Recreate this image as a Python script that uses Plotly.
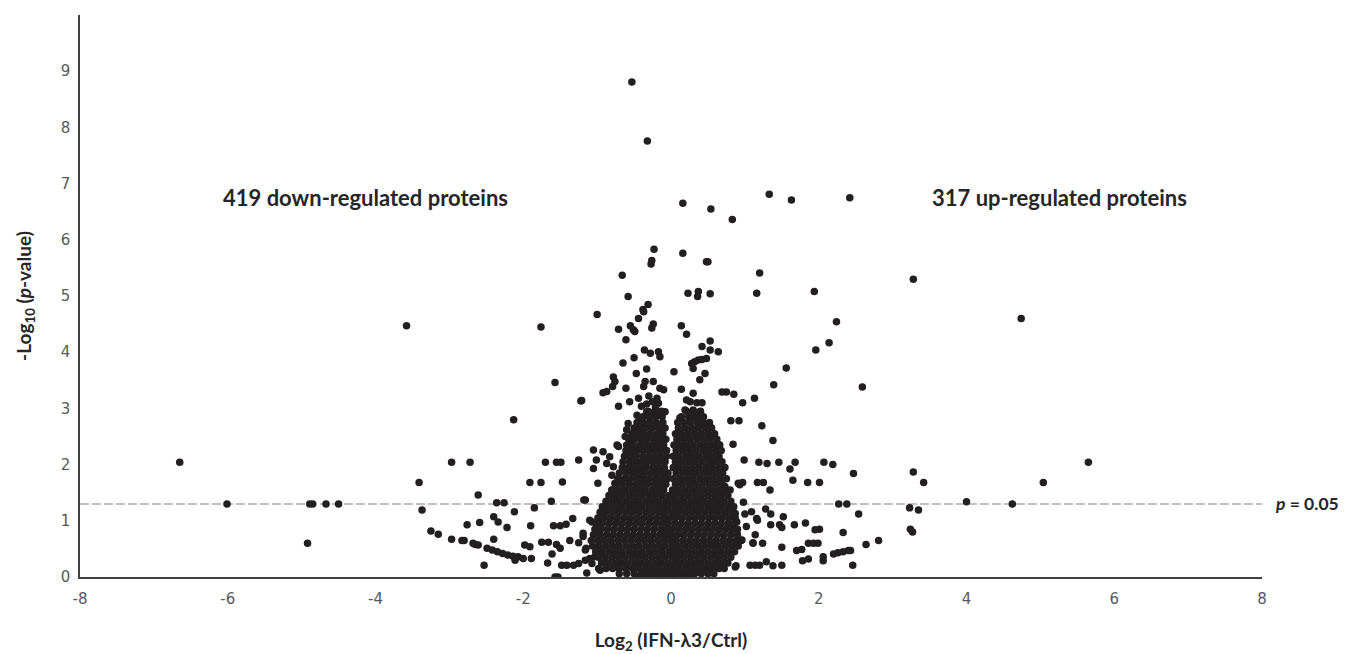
import plotly.graph_objects as go

# ---------------- data ----------------
far_left = [(-6.65, 2.04), (-6.01, 1.30), (-4.92, 0.60), (-4.89, 1.30), (-4.85, 1.30),
            (-4.67, 1.30), (-4.50, 1.30), (-3.58, 4.47), (-3.41, 1.68), (-3.37, 1.19),
            (-3.25, 0.82), (-3.15, 0.76)]

left_mid = [(-2.97, 2.04), (-2.72, 2.04), (-2.97, 0.67), (-2.83, 0.65), (-2.80, 0.65),
            (-2.68, 0.60), (-2.61, 0.57), (-2.76, 0.93), (-2.61, 1.46), (-2.59, 0.97),
            (-1.76, 4.45), (-1.00, 4.67), (-1.57, 3.46), (-1.22, 3.13), (-2.13, 2.80),
            (-1.70, 2.04), (-1.55, 2.04), (-1.49, 2.04), (-1.25, 2.08), (-1.91, 1.68),
            (-1.76, 1.68), (-1.47, 1.69), (-0.99, 1.67), (-1.05, 2.26), (-0.92, 2.23),
            (-2.36, 1.32), (-2.26, 1.32), (-1.62, 1.35), (-1.18, 1.37), (-1.85, 1.23),
            (-2.12, 1.16), (-2.40, 1.07), (-2.34, 0.98), (-2.22, 0.88), (-1.90, 0.91),
            (-1.59, 0.91), (-1.50, 0.91), (-1.42, 0.94), (-1.33, 1.04), (-2.65, 0.58),
            (-2.49, 0.51), (-2.42, 0.48), (-2.35, 0.45), (-2.28, 0.42), (-2.21, 0.39),
            (-2.14, 0.37), (-2.07, 0.36), (-2.40, 0.67), (-2.53, 0.21), (-1.98, 0.57),
            (-1.91, 0.54), (-2.11, 0.30), (-2.00, 0.33), (-1.89, 0.33), (-1.75, 0.62),
            (-1.66, 0.62), (-1.55, 0.58), (-1.50, 0.51), (-1.61, 0.41), (-1.67, 0.25),
            (-1.57, 0.00), (-1.53, 0.00), (-1.48, 0.21), (-1.41, 0.21), (-1.32, 0.21),
            (-1.25, 0.24), (-1.37, 0.65), (-1.25, 0.61), (-1.19, 0.72), (-1.15, 0.51),
            (-1.16, 0.30), (-1.07, 0.24), (-1.03, 0.36), (-0.96, 0.12), (-1.07, 0.98),
            (-1.01, 0.84), (-0.96, 0.66), (-1.10, 1.01), (-1.19, 0.78), (-1.16, 0.48),
            (-1.10, 0.33), (-0.98, 0.15), (-1.14, 0.07), (-1.05, 1.93), (-1.01, 2.08),
            (-0.83, 2.14), (-0.87, 2.02), (-0.78, 1.96), (-0.80, 1.81), (-0.76, 1.67),
            (-0.80, 1.55), (-0.69, 1.52), (-1.16, 1.37), (-1.21, 3.14)]

center_top = [(-0.53, 8.81), (-0.32, 7.76), (0.16, 6.65), (0.54, 6.55), (0.83, 6.36),
              (-0.23, 5.83), (0.16, 5.76), (-0.26, 5.63), (-0.27, 5.57), (0.48, 5.61),
              (0.50, 5.61), (-0.66, 5.37), (-0.58, 4.99), (0.23, 5.05), (0.37, 5.08),
              (0.36, 4.99), (0.53, 5.04), (-0.31, 4.85), (-0.38, 4.76), (-0.71, 4.41),
              (-0.61, 4.22), (-0.55, 4.47), (-0.51, 4.40), (-0.49, 4.37), (-0.44, 4.60),
              (-0.37, 4.72), (-0.24, 4.50), (-0.26, 4.43), (-0.36, 4.04), (-0.28, 3.98),
              (-0.17, 4.01), (-0.15, 3.92), (-0.65, 3.81), (-0.50, 3.90), (-0.33, 3.70),
              (-0.47, 3.62), (0.04, 3.65), (-0.78, 3.56), (-0.76, 3.48), (-0.79, 3.39),
              (-0.87, 3.30), (-0.92, 3.28), (-0.35, 3.48), (-0.37, 3.39), (-0.24, 3.48),
              (-0.15, 3.36), (-0.10, 3.33), (-0.61, 3.36), (-0.56, 3.12), (-0.71, 3.04),
              (-0.44, 3.18), (-0.40, 3.04), (-0.19, 3.18), (-0.17, 3.09),
              (-0.30, 3.22), (-0.25, 3.12), (-0.33, 3.08), (-0.21, 3.02),
              (0.14, 4.47), (0.21, 4.32), (0.53, 4.20), (0.42, 4.10), (0.53, 4.04),
              (0.64, 4.01), (0.28, 3.80), (0.32, 3.83), (0.37, 3.86), (0.42, 3.87),
              (0.48, 3.89), (0.30, 3.71), (0.46, 3.62), (0.39, 3.51), (0.14, 3.34),
              (0.30, 3.27), (0.21, 3.15), (0.26, 3.12), (0.35, 3.10), (0.42, 3.10),
              (0.19, 2.97), (0.30, 2.97), (0.39, 2.94), (0.12, 2.83), (0.26, 2.82),
              (0.37, 2.85), (0.42, 2.73), (0.48, 2.69), (0.53, 2.67),
              (-0.58, 2.73), (-0.60, 2.62), (-0.55, 2.47), (-0.62, 2.50), (-0.60, 2.35),
              (-0.71, 2.32), (-0.73, 2.35), (-0.46, 2.88), (-0.42, 2.82), (-0.33, 2.94),
              (-0.28, 2.85), (-0.19, 2.88), (-0.08, 2.94)]

right_mid = [(1.33, 6.81), (1.63, 6.71), (2.42, 6.75), (1.20, 5.41), (1.16, 5.05),
             (1.94, 5.08), (2.24, 4.54), (2.14, 4.17), (1.96, 4.04), (1.56, 3.72),
             (1.39, 3.42), (2.59, 3.38), (1.13, 3.18), (0.97, 3.10), (0.69, 3.29),
             (0.75, 3.29), (0.85, 3.25), (0.81, 2.78), (0.92, 2.78), (1.23, 2.69),
             (1.38, 2.43), (0.84, 2.36), (0.64, 2.36), (0.66, 2.26), (0.99, 2.08),
             (1.19, 2.04), (1.30, 2.02), (1.46, 2.04), (1.68, 2.04), (1.61, 1.92),
             (2.07, 2.04), (2.19, 2.00), (2.47, 1.84), (0.93, 1.64), (0.97, 1.68),
             (1.17, 1.68), (1.25, 1.68), (1.34, 1.55), (1.65, 1.72), (1.85, 1.68),
             (2.01, 1.68), (0.98, 1.33), (2.27, 1.30), (2.38, 1.30), (2.54, 1.12),
             (0.91, 1.67), (0.73, 1.61), (0.87, 1.13), (1.00, 1.12), (1.09, 1.16),
             (1.28, 1.21), (1.35, 1.12), (1.17, 1.01), (1.35, 0.93), (1.47, 0.93),
             (1.50, 0.88), (1.52, 1.07), (1.67, 0.93), (1.82, 0.96), (1.95, 0.84),
             (2.01, 0.85), (2.33, 0.79), (1.86, 0.60), (1.93, 0.60), (1.99, 0.60),
             (2.64, 0.58), (2.81, 0.65), (1.70, 0.47), (1.77, 0.49), (2.20, 0.41),
             (2.26, 0.43), (2.33, 0.45), (2.40, 0.47), (2.43, 0.47), (1.50, 0.53),
             (1.11, 0.60), (1.24, 0.60), (2.06, 0.36), (2.06, 0.29), (1.78, 0.29),
             (1.86, 0.32), (2.46, 0.21), (0.88, 0.20), (1.07, 0.21), (1.14, 0.21),
             (1.20, 0.21), (1.29, 0.27), (1.38, 0.20), (1.50, 0.21), (1.16, 1.04),
             (0.89, 0.98), (1.02, 0.90), (1.14, 0.75), (0.96, 0.66), (1.11, 0.61),
             (0.87, 0.18)]

far_right = [(3.28, 5.30), (4.74, 4.60), (5.65, 2.04), (5.04, 1.68), (4.00, 1.34),
             (4.62, 1.30), (3.28, 1.87), (3.42, 1.68), (3.23, 1.23), (3.35, 1.19),
             (3.24, 0.85), (3.27, 0.80)]

# dense core, written row by row: (-log10 p, [log2 fold changes])
core_rows = [
    (2.95, [-0.31, -0.22, -0.13, 0.21, 0.30, 0.40]),
    (2.85, [-0.38, -0.30, -0.21, -0.12, 0.14, 0.24, 0.33, 0.44]),
    (2.75, [-0.46, -0.38, -0.29, -0.20, -0.11, 0.09, 0.17, 0.26, 0.35, 0.44, 0.52]),
    (2.65, [-0.50, -0.42, -0.34, -0.25, -0.16, -0.08, 0.10, 0.19, 0.28, 0.37, 0.46, 0.55]),
    (2.55, [-0.53, -0.45, -0.37, -0.28, -0.19, -0.11, 0.06, 0.14, 0.23, 0.32, 0.41, 0.50, 0.59]),
    (2.45, [-0.57, -0.49, -0.40, -0.32, -0.23, -0.15, -0.07, 0.08, 0.17, 0.26, 0.35, 0.44, 0.53, 0.62]),
    (2.35, [-0.58, -0.51, -0.42, -0.34, -0.26, -0.18, -0.10, 0.04, 0.12, 0.21, 0.30, 0.39, 0.48, 0.57, 0.66]),
    (2.25, [-0.61, -0.53, -0.45, -0.37, -0.29, -0.21, -0.13, -0.06, 0.07, 0.16, 0.25, 0.34, 0.43, 0.52, 0.61, 0.68]),
    (2.15, [-0.63, -0.55, -0.47, -0.38, -0.30, -0.22, -0.14, -0.06, 0.03, 0.11, 0.20, 0.29, 0.38, 0.47, 0.56, 0.65]),
    (2.05, [-0.65, -0.56, -0.48, -0.40, -0.32, -0.24, -0.16, -0.08, 0.06, 0.15, 0.24, 0.33, 0.42, 0.51, 0.60, 0.69]),
    (1.95, [-0.66, -0.58, -0.50, -0.42, -0.34, -0.25, -0.17, -0.09, 0.03, 0.11, 0.20, 0.29, 0.38, 0.47, 0.56, 0.65, 0.73]),
    (1.85, [-0.70, -0.61, -0.52, -0.44, -0.36, -0.27, -0.19, -0.11, -0.04, 0.07, 0.16, 0.25, 0.34, 0.43, 0.52, 0.61, 0.70]),
    (1.75, [-0.72, -0.63, -0.55, -0.46, -0.38, -0.30, -0.21, -0.13, -0.05, 0.03, 0.12, 0.21, 0.30, 0.39, 0.48, 0.57, 0.66, 0.75]),
    (1.65, [-0.75, -0.66, -0.57, -0.48, -0.40, -0.32, -0.23, -0.15, -0.07, 0.06, 0.15, 0.24, 0.33, 0.42, 0.51, 0.60, 0.69]),
    (1.55, [-0.80, -0.71, -0.62, -0.53, -0.44, -0.35, -0.26, -0.18, -0.10, 0.02, 0.10, 0.19, 0.28, 0.37, 0.46, 0.55, 0.64, 0.73, 0.80]),
    (1.45, [-0.84, -0.75, -0.66, -0.57, -0.48, -0.39, -0.30, -0.21, -0.12, -0.03, 0.05, 0.14, 0.23, 0.32, 0.41, 0.50, 0.59, 0.68, 0.77]),
    (1.35, [-0.88, -0.79, -0.70, -0.61, -0.52, -0.43, -0.34, -0.25, -0.16, -0.07, 0.01, 0.09, 0.18, 0.27, 0.36, 0.45, 0.54, 0.63, 0.72, 0.81]),
    (1.25, [-0.93, -0.84, -0.75, -0.66, -0.57, -0.48, -0.39, -0.30, -0.21, -0.12, -0.04, 0.05, 0.14, 0.23, 0.32, 0.41, 0.50, 0.59, 0.68, 0.77, 0.85]),
    (1.15, [-0.96, -0.88, -0.79, -0.70, -0.61, -0.52, -0.43, -0.34, -0.25, -0.16, -0.08, 0.01, 0.10, 0.19, 0.28, 0.37, 0.46, 0.55, 0.64, 0.73, 0.82]),
    (1.05, [-0.99, -0.91, -0.82, -0.73, -0.64, -0.55, -0.46, -0.37, -0.28, -0.19, -0.10, -0.02, 0.06, 0.15, 0.24, 0.33, 0.42, 0.51, 0.60, 0.69, 0.78, 0.87]),
    (0.95, [-1.01, -0.93, -0.84, -0.75, -0.66, -0.57, -0.48, -0.39, -0.30, -0.21, -0.12, -0.04, 0.05, 0.14, 0.23, 0.32, 0.41, 0.50, 0.59, 0.68, 0.77, 0.85]),
    (0.85, [-1.03, -0.95, -0.86, -0.77, -0.68, -0.59, -0.50, -0.41, -0.32, -0.23, -0.14, -0.06, 0.02, 0.11, 0.20, 0.29, 0.38, 0.47, 0.56, 0.65, 0.74, 0.83, 0.90]),
    (0.75, [-1.05, -0.96, -0.87, -0.78, -0.69, -0.60, -0.51, -0.42, -0.33, -0.24, -0.15, -0.07, 0.01, 0.09, 0.18, 0.27, 0.36, 0.45, 0.54, 0.63, 0.72, 0.81, 0.90]),
    (0.65, [-1.08, -0.99, -0.90, -0.81, -0.72, -0.63, -0.54, -0.45, -0.36, -0.27, -0.18, -0.09, -0.01, 0.07, 0.16, 0.25, 0.34, 0.43, 0.52, 0.61, 0.70, 0.79, 0.88, 0.95]),
    (0.55, [-1.06, -0.97, -0.88, -0.79, -0.70, -0.61, -0.52, -0.43, -0.34, -0.25, -0.16, -0.08, 0.01, 0.10, 0.19, 0.28, 0.37, 0.46, 0.55, 0.64, 0.73, 0.82, 0.91]),
    (0.45, [-1.02, -0.93, -0.84, -0.75, -0.66, -0.57, -0.48, -0.39, -0.30, -0.21, -0.12, -0.03, 0.05, 0.14, 0.23, 0.32, 0.41, 0.50, 0.59, 0.68, 0.77, 0.86]),
    (0.35, [-0.98, -0.89, -0.80, -0.71, -0.62, -0.53, -0.44, -0.35, -0.26, -0.17, -0.08, 0.01, 0.09, 0.18, 0.27, 0.36, 0.45, 0.54, 0.63, 0.72, 0.81]),
    (0.25, [-0.94, -0.85, -0.76, -0.67, -0.58, -0.49, -0.40, -0.31, -0.22, -0.13, -0.04, 0.05, 0.14, 0.23, 0.32, 0.41, 0.50, 0.59, 0.68, 0.77]),
    (0.15, [-0.88, -0.79, -0.70, -0.61, -0.52, -0.43, -0.34, -0.25, -0.16, -0.07, 0.02, 0.11, 0.20, 0.29, 0.38, 0.47, 0.56, 0.65, 0.72]),
    (0.06, [-0.70, -0.60, -0.50, -0.40, -0.31, -0.22, -0.13, -0.04, 0.05, 0.14, 0.23, 0.32, 0.41, 0.50, 0.58]),
    (0.01, [-0.45, -0.35, -0.25, -0.15, -0.05, 0.05, 0.15, 0.25]),
]

p_threshold = 1.301          # -log10(0.05)
x_ticks = [-8, -6, -4, -2, 0, 2, 4, 6, 8]
y_ticks = [0, 1, 2, 3, 4, 5, 6, 7, 8, 9]
down_label = "419 down-regulated proteins"
up_label = "317 up-regulated proteins"

# ---------------- assemble ----------------
xs, ys = [], []
for group in (far_left, left_mid, center_top, right_mid, far_right):
    for x, y in group:
        xs.append(x)
        ys.append(y)
for y, row in core_rows:
    for x in row:
        xs.append(x)
        ys.append(y)

DOT = "#231F20"
AXIS = "#404040"
TEXT = "#262626"
TICKFONT = dict(family="DejaVu Sans, Verdana, sans-serif", size=15, color="#595959")
BOLDFONT = "Lato, Calibri, 'Open Sans', sans-serif"

fig = go.Figure()
fig.add_trace(go.Scatter(
    x=xs, y=ys, mode="markers",
    marker=dict(size=7.5, color=DOT, line=dict(width=0)),
    hoverinfo="x+y", showlegend=False,
))

fig.add_shape(type="line", xref="x", yref="y", x0=-8, x1=8,
              y0=p_threshold, y1=p_threshold,
              line=dict(color="#BFBFBF", width=2, dash="9px,3px"), layer="below")

fig.add_annotation(x=-4.14, y=6.76, xref="x", yref="y", text="<b>%s</b>" % down_label,
                   showarrow=False, font=dict(family=BOLDFONT, size=22, color=TEXT))
fig.add_annotation(x=5.26, y=6.76, xref="x", yref="y", text="<b>%s</b>" % up_label,
                   showarrow=False, font=dict(family=BOLDFONT, size=22, color=TEXT))
fig.add_annotation(x=1.0095, y=p_threshold, xref="paper", yref="y", xanchor="left",
                   text="<b><i>p</i> = 0.05</b>", showarrow=False,
                   font=dict(family=BOLDFONT, size=17.5, color=TEXT))

# the page body has an 8px margin, so the figure is sized/offset to compensate
fig.update_layout(
    width=1341, height=646,
    margin=dict(l=72, r=87, t=7, b=77, autoexpand=False),
    paper_bgcolor="white", plot_bgcolor="white",
    xaxis=dict(range=[-8, 8], tickvals=x_ticks, ticktext=[str(v) for v in x_ticks],
               showline=True, linecolor=AXIS, linewidth=1.5, showgrid=False,
               zeroline=False, ticks="", tickfont=TICKFONT, ticklabelstandoff=7,
               automargin=False,
               title=dict(text="<b>Log<sub>2</sub> (IFN-λ3/Ctrl)</b>",
                          font=dict(family=BOLDFONT, size=19, color=TEXT),
                          standoff=28)),
    yaxis=dict(range=[0, 10], tickvals=y_ticks, ticktext=[str(v) for v in y_ticks],
               showline=True, linecolor=AXIS, linewidth=1.5, showgrid=False,
               zeroline=False, ticks="", tickfont=TICKFONT, ticklabelstandoff=5,
               automargin=False,
               title=dict(text="<b>-Log<sub>10</sub> (<i>p</i>-value)</b>",
                          font=dict(family=BOLDFONT, size=19, color=TEXT),
                          standoff=24)),
)

fig.write_html("out.html")
